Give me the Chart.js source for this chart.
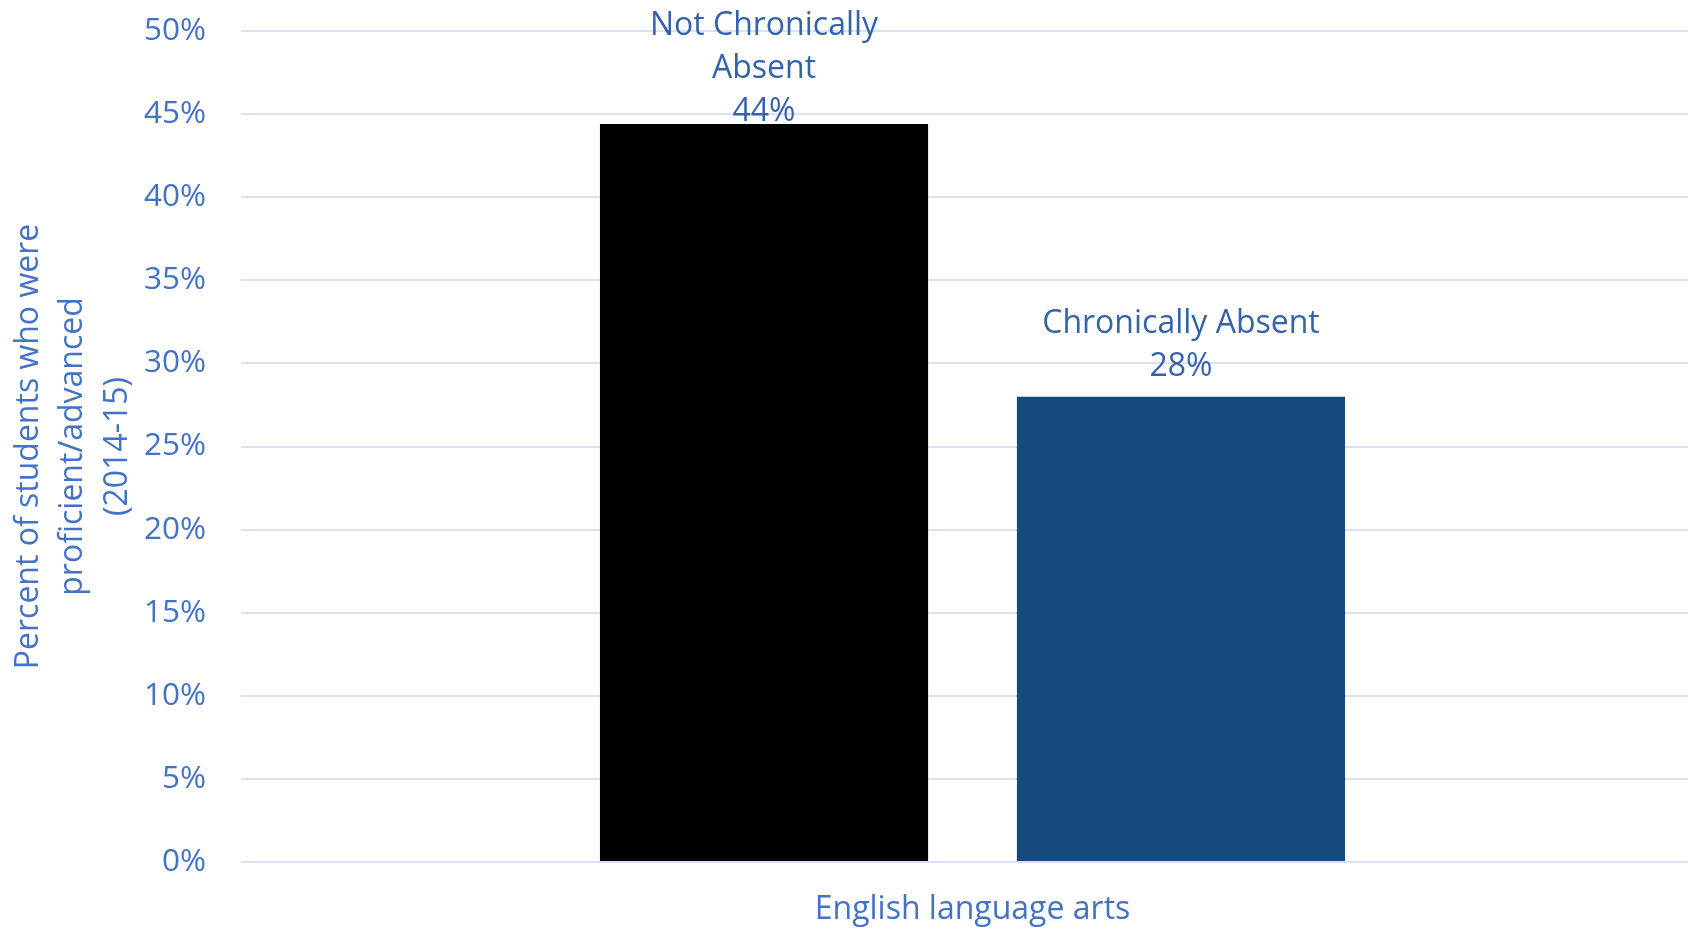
<!DOCTYPE html>
<html>
<head>
<meta charset="utf-8">
<script src="https://cdn.jsdelivr.net/npm/chart.js@4"></script>
<style>
  html, body { margin: 0; padding: 0; background: #fff; overflow: hidden; }
  #wrap { width: 1704px; height: 928px; }
</style>
</head>
<body>
<div id="wrap"><canvas id="chart"></canvas></div>
<script>
const categories = ['English language arts'];
const seriesNames = ['Not Chronically Absent', 'Chronically Absent'];
const notChronic = [44.4];
const chronic = [28.0];
const yTicks = [0, 5, 10, 15, 20, 25, 30, 35, 40, 45, 50];
const yTitle = ['Percent of students who were', 'proficient/advanced', '(2014-15)'];

const FONT = 'Open Sans';
const TICK_COLOR = '#4472C4';
const LABEL_COLOR = '#3563AB';

// labels above bars: series name (wrapped to bar width) + value
const barLabels = {
  id: 'barLabels',
  afterDatasetsDraw(chart) {
    const ctx = chart.ctx;
    const lh = 43;
    ctx.save();
    ctx.font = '32px "' + FONT + '"';
    ctx.fillStyle = LABEL_COLOR;
    ctx.textAlign = 'center';
    ctx.textBaseline = 'middle';
    chart.data.datasets.forEach((ds, i) => {
      const meta = chart.getDatasetMeta(i);
      meta.data.forEach((bar, j) => {
        const words = ds.label.split(' ');
        const lines = [];
        let cur = '';
        words.forEach(w => {
          const t = cur ? cur + ' ' + w : w;
          if (cur && ctx.measureText(t).width > bar.width) {
            lines.push(cur);
            cur = w;
          } else cur = t;
        });
        lines.push(cur);
        lines.push(Math.round(ds.data[j]) + '%');
        let top = bar.y - 8 - lines.length * lh;
        if (top < 4) top = 4;
        lines.forEach((ln, k) => ctx.fillText(ln, bar.x, top + lh * k + lh / 2));
      });
    });
    ctx.restore();
  }
};

new Chart(document.getElementById('chart'), {
  type: 'bar',
  data: {
    labels: categories,
    datasets: [
      { label: seriesNames[0], data: notChronic, backgroundColor: '#000000' },
      { label: seriesNames[1], data: chronic, backgroundColor: '#174A7C' }
    ]
  },
  options: {
    responsive: true,
    maintainAspectRatio: false,
    animation: false,
    categoryPercentage: 0.57,
    barPercentage: 0.787,
    layout: { padding: { top: 31, left: 7, right: 0, bottom: 0 } },
    plugins: {
      legend: { display: false },
      tooltip: { enabled: false }
    },
    scales: {
      x: {
        grid: { display: false, drawTicks: false },
        border: { display: false },
        afterFit: axis => { axis.height = 66; },
        ticks: { color: TICK_COLOR, font: { family: FONT, size: 32 }, padding: 29 }
      },
      y: {
        min: 0,
        max: 50,
        afterBuildTicks: axis => { axis.ticks = yTicks.map(v => ({ value: v })); },
        afterFit: axis => {
          axis.width = 234;
          axis.paddingTop = 0;
          axis.paddingBottom = 0;
        },
        grid: { color: '#D9E1F2', lineWidth: 2, drawTicks: false },
        border: { display: false },
        ticks: {
          color: TICK_COLOR,
          font: { family: FONT, size: 31.5 },
          padding: 35,
          callback: v => v + '%'
        },
        title: {
          display: true,
          text: yTitle,
          color: TICK_COLOR,
          font: { family: FONT, size: 32, lineHeight: 1.38 },
          padding: { top: 0, bottom: 8 }
        }
      }
    }
  },
  plugins: [barLabels]
});
</script>
</body>
</html>
